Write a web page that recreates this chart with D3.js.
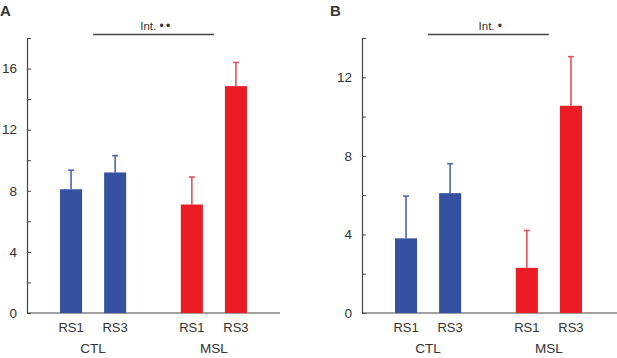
<!DOCTYPE html>
<html>
<head>
<meta charset="utf-8">
<script src="https://d3js.org/d3.v7.min.js"></script>
<style>
  body { margin: 0; background: #fff; }
  text { font-family: "Liberation Sans", Arial, sans-serif; fill: #333; }
</style>
</head>
<body>
<div id="chart"></div>
<script>
// data
var groups = ["CTL", "MSL"];
var conditions = ["RS1", "RS3"];
var meansA = [8.1, 9.2, 7.1, 14.85];
var semA = [1.25, 1.1, 1.8, 1.55];
var meansB = [3.8, 6.1, 2.3, 10.55];
var semB = [2.15, 1.5, 1.9, 2.5];
var majorTicksA = [0, 4, 8, 12, 16];
var minorTicksA = [2, 6, 10, 14];
var majorTicksB = [0, 4, 8, 12];
var minorTicksB = [2, 6, 10];

var barColors = {CTL: "#3451a1", MSL: "#ec1c24"};
var errColors = {CTL: "#4a66b3", MSL: "#e4505a"};

var svg = d3.select("#chart").append("svg")
    .attr("width", 617)
    .attr("height", 358);

function drawPanel(opt) {
  var g = svg.append("g").attr("transform", "translate(" + opt.axisX + ",0)");
  var y = d3.scaleLinear().domain([0, opt.yMax]).range([313, 38]);

  var xGroup = d3.scaleBand().domain(groups)
      .range([22, 231]).paddingInner(0.27).paddingOuter(0);
  var xCond = d3.scaleBand().domain(conditions)
      .range([0, xGroup.bandwidth()]).paddingInner(0.5).paddingOuter(0.25);

  var data = [];
  groups.forEach(function(gr, gi) {
    conditions.forEach(function(c, ci) {
      var i = gi * 2 + ci;
      data.push({group: gr, cond: c, mean: opt.means[i], sem: opt.sem[i]});
    });
  });
  var cx = function(d) { return xGroup(d.group) + xCond(d.cond) + xCond.bandwidth() / 2; };

  // x baseline
  g.append("line")
    .attr("x1", 0).attr("x2", opt.xEnd - opt.axisX)
    .attr("y1", y(0)).attr("y2", y(0))
    .attr("stroke", "#444").attr("stroke-width", 1.2);

  // error bars
  var eb = g.selectAll(".err").data(data).enter().append("g");
  eb.append("line")
    .attr("x1", cx).attr("x2", cx)
    .attr("y1", function(d) { return y(d.mean); })
    .attr("y2", function(d) { return y(d.mean + d.sem); })
    .attr("stroke", function(d) { return errColors[d.group]; })
    .attr("stroke-width", 1.6);
  eb.append("line")
    .attr("x1", function(d) { return cx(d) - 3; })
    .attr("x2", function(d) { return cx(d) + 3; })
    .attr("y1", function(d) { return y(d.mean + d.sem); })
    .attr("y2", function(d) { return y(d.mean + d.sem); })
    .attr("stroke", function(d) { return errColors[d.group]; })
    .attr("stroke-width", 1.6);

  // bars
  g.selectAll(".bar").data(data).enter().append("rect")
    .attr("class", "bar")
    .attr("x", function(d) { return xGroup(d.group) + xCond(d.cond); })
    .attr("width", xCond.bandwidth())
    .attr("y", function(d) { return y(d.mean); })
    .attr("height", function(d) { return y(0) - y(d.mean); })
    .attr("fill", function(d) { return barColors[d.group]; });

  // y axis
  var yAxis = g.append("g")
    .call(d3.axisLeft(y).tickValues(opt.major).tickSize(-4).tickSizeOuter(-4).tickPadding(10));
  yAxis.selectAll("text").style("font-size", "13.5px").attr("fill", "#333");
  yAxis.select(".domain").attr("stroke", "#444").attr("stroke-width", 1.2);
  yAxis.selectAll(".tick line").attr("stroke", "#444");
  g.append("g")
    .call(d3.axisLeft(y).tickValues(opt.minor).tickSize(-4).tickFormat(""))
    .call(function(s) { s.select(".domain").remove(); })
    .selectAll(".tick line").attr("stroke", "#444");

  // category labels
  g.selectAll(".cond").data(data).enter().append("text")
    .attr("x", cx)
    .attr("y", 331.5)
    .attr("text-anchor", "middle")
    .style("font-size", "13px")
    .text(function(d) { return d.cond; });
  g.selectAll(".grp").data(groups).enter().append("text")
    .attr("x", function(d) { return xGroup(d) + xGroup.bandwidth() / 2; })
    .attr("y", 352.5)
    .attr("text-anchor", "middle")
    .style("font-size", "13.5px")
    .text(function(d) { return d; });

  // interaction bracket
  var x1 = xGroup(groups[0]) + xGroup.bandwidth() / 2;
  var x2 = xGroup(groups[1]) + xGroup.bandwidth() / 2;
  g.append("line")
    .attr("x1", x1).attr("x2", x2)
    .attr("y1", 34.5).attr("y2", 34.5)
    .attr("stroke", "#444").attr("stroke-width", 1.5);
  var sig = g.append("text")
    .attr("x", (x1 + x2) / 2 + 3)
    .attr("y", 30)
    .attr("text-anchor", "middle")
    .style("font-size", "11.5px");
  sig.append("tspan").text("Int.  ");
  sig.append("tspan").style("font-size", "12px").style("letter-spacing", "2.5px").text(opt.sig);

  // panel letter
  svg.append("text")
    .attr("x", opt.letterX)
    .attr("y", 15.5)
    .style("font-size", "15px")
    .style("font-weight", "bold")
    .text(opt.letter);
}

drawPanel({axisX: 27, xEnd: 280, yMax: 18, means: meansA, sem: semA,
  major: majorTicksA, minor: minorTicksA, sig: "\u2022\u2022", letter: "A", letterX: 0});
drawPanel({axisX: 362, xEnd: 617, yMax: 14, means: meansB, sem: semB,
  major: majorTicksB, minor: minorTicksB, sig: "\u2022", letter: "B", letterX: 330});
</script>
</body>
</html>
